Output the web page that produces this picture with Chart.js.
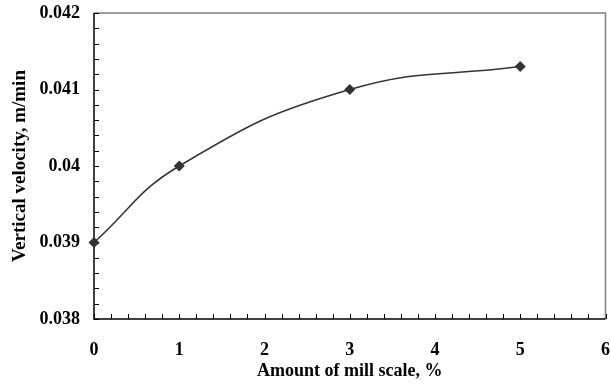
<!DOCTYPE html>
<html>
<head>
<meta charset="utf-8">
<script src="https://cdn.jsdelivr.net/npm/chart.js@4/dist/chart.umd.min.js"></script>
<style>
  html, body { margin: 0; padding: 0; background: #fff; overflow: hidden; }
  canvas { display: block; }
</style>
</head>
<body>
<canvas id="c" width="611" height="385"></canvas>
<script>
// Mill scale content (%) vs. vertical velocity (m/min)
const millScale = [0, 1, 3, 5];
const velocity = [0.039, 0.040, 0.041, 0.0413];
const xTickRange = [0, 6];
const yTickRange = [0.038, 0.042];

const points = millScale.map((x, i) => ({ x: x, y: velocity[i] }));

const FONT = 'Liberation Serif, "Times New Roman", serif';

// Inward tick marks plus the plot frame
const framePlugin = {
  id: 'frame',
  beforeDatasetsDraw(chart) {
    const { ctx, chartArea: a, scales } = chart;
    ctx.save();
    // top and right border (grey)
    ctx.strokeStyle = '#808080';
    ctx.lineWidth = 1.5;
    ctx.beginPath();
    ctx.moveTo(a.left, a.top);
    ctx.lineTo(a.right, a.top);
    ctx.lineTo(a.right, a.bottom);
    ctx.stroke();
    // axis lines (black)
    ctx.strokeStyle = '#000';
    ctx.lineWidth = 1.5;
    ctx.beginPath();
    ctx.moveTo(a.left, a.top);
    ctx.lineTo(a.left, a.bottom);
    ctx.lineTo(a.right, a.bottom);
    ctx.stroke();
    // inward ticks
    ctx.lineWidth = 1;
    ctx.beginPath();
    scales.x.ticks.forEach(t => {
      const px = Math.round(scales.x.getPixelForValue(t.value)) + 0.5;
      ctx.moveTo(px, a.bottom);
      ctx.lineTo(px, a.bottom - 5);
    });
    scales.y.ticks.forEach(t => {
      const py = Math.round(scales.y.getPixelForValue(t.value)) + 0.5;
      ctx.moveTo(a.left, py);
      ctx.lineTo(a.left + 5, py);
    });
    ctx.stroke();
    ctx.restore();
  }
};

new Chart(document.getElementById('c'), {
  type: 'scatter',
  data: {
    datasets: [{
      data: points,
      showLine: true,
      tension: 0.45,
      clip: false,
      borderColor: '#333333',
      borderWidth: 1.5,
      backgroundColor: '#333333',
      pointStyle: 'rectRot',
      pointRadius: 5.5,
      pointHoverRadius: 5.5,
      pointBorderWidth: 0
    }]
  },
  options: {
    responsive: false,
    animation: false,
    devicePixelRatio: 1,
    layout: { padding: { left: 9, right: 4, top: 13, bottom: 3 } },
    plugins: {
      legend: { display: false },
      tooltip: { enabled: false }
    },
    scales: {
      x: {
        type: 'linear',
        min: xTickRange[0],
        max: xTickRange[1],
        afterFit(s) {
          s.height = 63;
          s.paddingLeft = 0;
          s.paddingRight = 0;
        },
        border: { display: false },
        grid: { display: false, drawTicks: false },
        ticks: {
          stepSize: 0.2,
          autoSkip: false,
          maxRotation: 0,
          padding: 21,
          color: '#000',
          font: { family: FONT, size: 18, weight: 'bold' },
          callback(v) {
            return Math.abs(v - Math.round(v)) < 1e-6 ? String(Math.round(v)) : '';
          }
        },
        title: {
          display: true,
          text: 'Amount of mill scale, %',
          color: '#000',
          font: { family: FONT, size: 18, weight: 'bold' },
          padding: { top: 0, bottom: 0 }
        }
      },
      y: {
        type: 'linear',
        min: yTickRange[0],
        max: yTickRange[1],
        afterFit(s) {
          s.width = 85;
          s.paddingTop = 0;
          s.paddingBottom = 0;
        },
        border: { display: false },
        grid: { display: false, drawTicks: false },
        ticks: {
          stepSize: 0.0002,
          autoSkip: false,
          padding: 14,
          color: '#000',
          font: { family: FONT, size: 18, weight: 'bold' },
          callback(v) {
            const k = v * 1000;
            return Math.abs(k - Math.round(k)) < 1e-6 ? String(+(Math.round(k) / 1000).toFixed(3)) : '';
          }
        },
        title: {
          display: true,
          text: 'Vertical velocity, m/min',
          color: '#000',
          font: { family: FONT, size: 19, weight: 'bold' },
          padding: { top: 0, bottom: 0 }
        }
      }
    }
  },
  plugins: [framePlugin]
});
</script>
</body>
</html>
